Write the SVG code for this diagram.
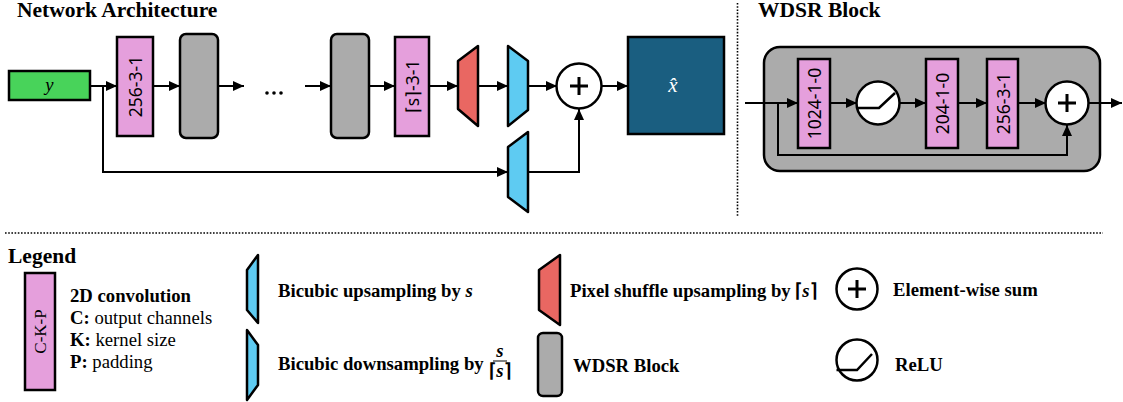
<svg xmlns="http://www.w3.org/2000/svg" width="1123" height="402" viewBox="0 0 1123 402">
  <style>
    .title { font-family: "Liberation Serif", serif; font-weight: bold; font-size: 21.5px; fill: #000; }
    .lg { font-family: "Liberation Serif", serif; font-size: 18.7px; fill: #000; }
    .b { font-weight: bold; }
    .it { font-style: italic; }
    .conv { fill: #e59fdc; stroke: #000; stroke-width: 2.5; }
    .convtxt { font-family: "Noto Sans", "Open Sans", sans-serif; font-size: 17.5px; fill: #000; text-anchor: middle; dominant-baseline: central; }
    .blk { fill: #ababab; stroke: #000; stroke-width: 2.5; }
    .blue { fill: #5ecbf2; stroke: #000; stroke-width: 2.5; stroke-linejoin: round; }
    .red { fill: #e96762; stroke: #000; stroke-width: 2.5; stroke-linejoin: round; }
    .op { fill: #fff; stroke: #000; stroke-width: 2.5; }
    .sym { fill: none; stroke: #000; stroke-width: 3; }
    .relu { fill: none; stroke: #000; stroke-width: 2.5; }
    .arr { fill: none; stroke: #000; stroke-width: 2; marker-end: url(#head); }
    .dot { fill: none; stroke: #000; stroke-width: 1.6; stroke-dasharray: 1.6 1.6; }
  </style>
  <defs>
    <marker id="head" markerUnits="userSpaceOnUse" markerWidth="11" markerHeight="10" refX="11" refY="5" orient="auto">
      <path d="M0,0 L11,5 L0,10 z" fill="#000"/>
    </marker>
  </defs>

  <rect width="1123" height="402" fill="#fff"/>

  <!-- section titles -->
  <text class="title" x="17" y="17">Network Architecture</text>
  <text class="title" x="758" y="17">WDSR Block</text>

  <!-- separators -->
  <line class="dot" x1="737.5" y1="3" x2="737.5" y2="216"/>
  <line class="dot" x1="5" y1="233" x2="1103" y2="233"/>

  <!-- connectors: network -->
  <g id="connectors">
    <line class="arr" x1="90" y1="86" x2="117" y2="86"/>
    <polyline class="arr" points="103,86 103,172 508,172"/>
    <line class="arr" x1="153" y1="86" x2="180" y2="86"/>
    <line class="arr" x1="218" y1="86" x2="244" y2="86"/>
    <line class="arr" x1="305" y1="86" x2="331" y2="86"/>
    <line class="arr" x1="369" y1="86" x2="395" y2="86"/>
    <line class="arr" x1="429" y1="86" x2="458" y2="86"/>
    <line class="arr" x1="478" y1="86" x2="508" y2="86"/>
    <line class="arr" x1="528" y1="86" x2="557" y2="86"/>
    <polyline class="arr" points="528,172 579,172 579,109"/>
    <line class="arr" x1="602" y1="86" x2="628" y2="86"/>
  </g>

  <!-- network nodes -->
  <g id="input-y">
    <rect x="9" y="71" width="81" height="29" fill="#48d35a" stroke="#000" stroke-width="2.5"/>
    <text class="lg it" x="49.5" y="91" text-anchor="middle" font-size="19">y</text>
  </g>
  <g id="conv-head">
    <rect class="conv" x="117" y="37" width="36" height="99"/>
    <text class="convtxt" transform="translate(135,86.5) rotate(-90)">256-3-1</text>
  </g>
  <g id="wdsr-1">
    <rect class="blk" x="180" y="34" width="38" height="104" rx="6"/>
  </g>
  <g id="ellipsis">
    <circle cx="267" cy="93" r="1.8" fill="#000"/>
    <circle cx="274" cy="93" r="1.8" fill="#000"/>
    <circle cx="281" cy="93" r="1.8" fill="#000"/>
  </g>
  <g id="wdsr-n">
    <rect class="blk" x="331" y="34" width="38" height="104" rx="6"/>
  </g>
  <g id="conv-tail">
    <rect class="conv" x="395" y="37" width="34" height="99"/>
    <text class="convtxt" transform="translate(412,86.5) rotate(-90)">⌈s⌉-3-1</text>
  </g>
  <g id="pixel-shuffle">
    <polygon class="red" points="458,61 478,46 478,126 458,109"/>
  </g>
  <g id="bicubic-down">
    <polygon class="blue" points="508,46 528,61 528,110 508,126"/>
  </g>
  <g id="bicubic-up">
    <polygon class="blue" points="508,147 528,132 528,212 508,197"/>
  </g>
  <g id="sum">
    <circle class="op" cx="579" cy="86" r="22.5"/>
    <path class="sym" d="M570,86 H588 M579,77 V95"/>
  </g>
  <g id="output-xhat">
    <rect x="628" y="37" width="96" height="97" fill="#1a5e80" stroke="#000" stroke-width="2.5"/>
    <text x="673" y="92" text-anchor="middle" font-family="Liberation Serif, serif" font-style="italic" font-size="21" fill="#fff">x̂</text>
  </g>

  <!-- WDSR block detail -->
  <g id="wdsr-detail">
    <rect class="blk" x="764" y="47" width="336" height="124" rx="16"/>
  </g>
  <g id="wdsr-connectors">
    <line class="arr" x1="745" y1="103" x2="798" y2="103"/>
    <polyline class="arr" points="778,103 778,155 1067,155 1067,125"/>
    <line class="arr" x1="830" y1="103" x2="857" y2="103"/>
    <line class="arr" x1="899" y1="103" x2="926" y2="103"/>
    <line class="arr" x1="958" y1="103" x2="987" y2="103"/>
    <line class="arr" x1="1018" y1="103" x2="1046" y2="103"/>
    <line class="arr" x1="1088" y1="103" x2="1122" y2="103"/>
  </g>
  <g id="wdsr-conv1">
    <rect class="conv" x="798" y="59" width="32" height="89"/>
    <text class="convtxt" transform="translate(814,103.5) rotate(-90)">1024-1-0</text>
  </g>
  <g id="wdsr-relu">
    <circle class="op" cx="878" cy="103" r="21.5"/>
    <polyline class="relu" points="856.5,108 879,108 895,93"/>
  </g>
  <g id="wdsr-conv2">
    <rect class="conv" x="926" y="59" width="32" height="89"/>
    <text class="convtxt" transform="translate(942,103.5) rotate(-90)">204-1-0</text>
  </g>
  <g id="wdsr-conv3">
    <rect class="conv" x="987" y="59" width="31" height="89"/>
    <text class="convtxt" transform="translate(1002.5,103.5) rotate(-90)">256-3-1</text>
  </g>
  <g id="wdsr-sum">
    <circle class="op" cx="1067" cy="103" r="21.5"/>
    <path class="sym" d="M1058,103 H1076 M1067,94 V112"/>
  </g>

  <!-- legend -->
  <text class="title" x="8" y="263">Legend</text>
  <g id="legend-conv">
    <rect class="conv" x="25" y="273" width="30" height="117"/>
    <text transform="translate(40,331.5) rotate(-90)" font-family="Liberation Serif, serif" font-size="17" text-anchor="middle" dominant-baseline="central">C-K-P</text>
    <text class="lg b" x="70" y="302">2D convolution</text>
    <text class="lg" x="70" y="324"><tspan class="b">C:</tspan> output channels</text>
    <text class="lg" x="70" y="346"><tspan class="b">K:</tspan> kernel size</text>
    <text class="lg" x="70" y="368"><tspan class="b">P:</tspan> padding</text>
  </g>
  <g id="legend-up">
    <polygon class="blue" points="247,270 258,255 258,323 247,310"/>
    <text class="lg b" x="278" y="297">Bicubic upsampling by <tspan class="it">s</tspan></text>
  </g>
  <g id="legend-down">
    <polygon class="blue" points="247,330 258,345 258,385 247,400"/>
    <text class="lg b" x="278" y="370">Bicubic downsampling by</text>
    <text class="lg b it" x="500" y="357" font-size="13" text-anchor="middle">s</text>
    <line x1="493" y1="361" x2="507" y2="361" stroke="#000" stroke-width="1"/>
    <text class="lg b" x="500" y="377" font-size="13" text-anchor="middle">⌈<tspan class="it">s</tspan>⌉</text>
  </g>
  <g id="legend-pixel-shuffle">
    <polygon class="red" points="539,270 560,255 560,325 539,310"/>
    <text class="lg b" x="570" y="297">Pixel shuffle upsampling by ⌈<tspan class="it">s</tspan>⌉</text>
  </g>
  <g id="legend-wdsr">
    <rect class="blk" x="538" y="333" width="24" height="63" rx="5"/>
    <text class="lg b" x="573" y="372">WDSR Block</text>
  </g>
  <g id="legend-sum">
    <circle class="op" cx="857" cy="289" r="20.5"/>
    <path class="sym" d="M848,289 H866 M857,280 V298"/>
    <text class="lg b" x="893" y="296">Element-wise sum</text>
  </g>
  <g id="legend-relu">
    <circle class="op" cx="857" cy="360" r="20.5"/>
    <polyline class="relu" points="836.5,370 857,370 872,354"/>
    <text class="lg b" x="895" y="371">ReLU</text>
  </g>
</svg>
